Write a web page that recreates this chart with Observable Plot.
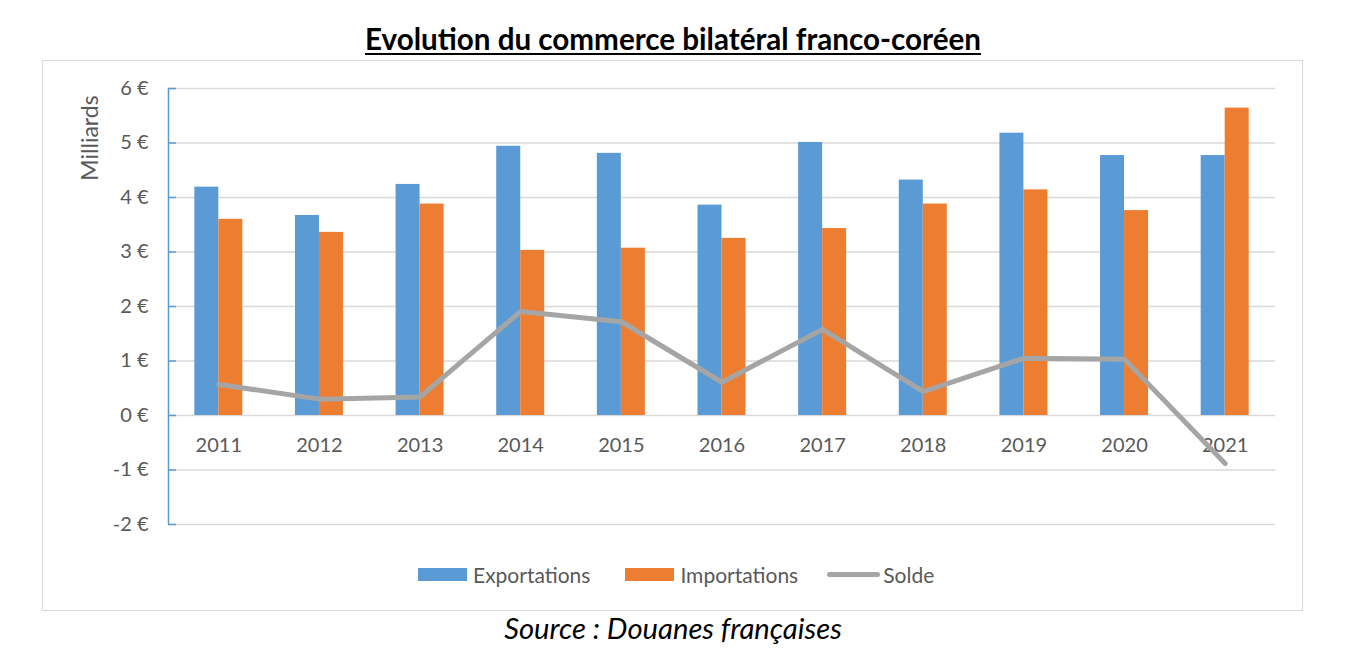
<!DOCTYPE html>
<html>
<head>
<meta charset="utf-8">
<script src="https://cdn.jsdelivr.net/npm/d3@7"></script>
<script src="https://cdn.jsdelivr.net/npm/@observablehq/plot@0.6"></script>
<style>
  html, body { margin: 0; padding: 0; background: #fff; }
  #wrap { position: relative; width: 1349px; height: 670px; font-family: Lato, "Open Sans", sans-serif; }
  #title { position: absolute; left: 0; width: 1346px; top: 24px; line-height: 1; text-align: center; font-weight: 700; font-size: 29.6px; text-decoration: underline; text-decoration-thickness: 2px; text-underline-offset: 3px; color: #000; }
  #box { position: absolute; left: 42px; top: 60px; width: 1259px; height: 549px; border: 1px solid #d9d9d9; }
  #chart { position: absolute; left: 42px; top: 60px; }
  #ylabel { position: absolute; left: 89px; top: 138px; transform: translate(-50%, -50%) rotate(-90deg); font-size: 23px; line-height: 1; color: #595959; white-space: nowrap; }
  #legend { position: absolute; top: 562px; left: 418px; display: flex; align-items: center; font-size: 21px; color: #595959; }
  #legend .item { display: flex; align-items: center; margin-right: 35px; }
  #legend .item:nth-child(2) { margin-right: 29px; }
  #legend .sw { width: 49px; height: 13px; margin-right: 6px; }
  #legend .ln { width: 53px; height: 5px; border-radius: 3px; margin-right: 3px; }
  #caption { position: absolute; left: 0; width: 1346px; top: 613px; line-height: 1; text-align: center; font-style: italic; font-size: 29.2px; color: #000; }
</style>
</head>
<body>
<div id="wrap">
  <div id="title">Evolution du commerce bilatéral franco-coréen</div>
  <div id="box"></div>
  <div id="chart"></div>
  <div id="ylabel">Milliards</div>
  <div id="legend"></div>
  <div id="caption">Source : Douanes françaises</div>
</div>
<script>
const years = ["2011","2012","2013","2014","2015","2016","2017","2018","2019","2020","2021"];
const exportations = [4.19, 3.67, 4.24, 4.94, 4.81, 3.86, 5.01, 4.32, 5.18, 4.77, 4.77];
const importations = [3.60, 3.36, 3.88, 3.03, 3.07, 3.25, 3.43, 3.88, 4.14, 3.76, 5.64];
const solde = [0.57, 0.30, 0.34, 1.91, 1.72, 0.61, 1.58, 0.44, 1.05, 1.03, -0.88];
const yTicks = [-2, -1, 0, 1, 2, 3, 4, 5, 6];
const seriesNames = ["Exportations", "Importations", "Solde"];
const colors = ["#5b9bd5", "#ed7d31", "#a5a5a5"];

const rows = years.map((y, i) => ({year: y, exp: exportations[i], imp: importations[i], solde: solde[i]}));

const W = 1260, H = 490, mL = 126, mR = 27, mT = 28, mB = 26;
const bw = (W - mL - mR) / years.length;
const barW = 24;

const chart = Plot.plot({
  width: W, height: H,
  marginTop: mT, marginBottom: mB, marginLeft: mL, marginRight: mR,
  style: {fontFamily: "Lato, 'Open Sans', sans-serif", background: "transparent"},
  x: {domain: years, padding: 0, round: false, axis: null},
  y: {domain: [-2, 6], axis: null},
  marks: [
    Plot.gridY(yTicks, {stroke: "#d9d9d9", strokeOpacity: 1, strokeWidth: 1.5}),
    Plot.barY(rows, {x: "year", y: "exp", fill: colors[0], insetLeft: bw / 2 - barW, insetRight: bw / 2}),
    Plot.barY(rows, {x: "year", y: "imp", fill: colors[1], insetLeft: bw / 2, insetRight: bw / 2 - barW}),
    Plot.axisY({ticks: yTicks, tickSize: 8, dx: 8, tickFormat: () => "", stroke: colors[0], strokeWidth: 1.5, label: null}),
    Plot.ruleX([0], {x: () => years[0], y1: -2, y2: 6, stroke: colors[0], strokeWidth: 1.5, dx: -bw / 2}),
    Plot.axisY({ticks: yTicks, tickSize: 0, tickPadding: 20, tickFormat: d => `${d} €`, fill: "#595959", fontSize: 20, label: null}),
    Plot.text(years, {x: d => d, y: 0, dy: 30, text: d => d, fill: "#595959", fontSize: 20}),
    Plot.line(rows, {x: "year", y: "solde", stroke: colors[2], strokeWidth: 5, strokeLinecap: "round", strokeLinejoin: "round"})
  ]
});
document.getElementById("chart").appendChild(chart);

const legend = document.getElementById("legend");
seriesNames.forEach((name, i) => {
  const item = document.createElement("div");
  item.className = "item";
  const sw = document.createElement("div");
  sw.className = i < 2 ? "sw" : "ln";
  sw.style.background = colors[i];
  const t = document.createElement("span");
  t.textContent = name;
  item.appendChild(sw); item.appendChild(t);
  legend.appendChild(item);
});
</script>
</body>
</html>
